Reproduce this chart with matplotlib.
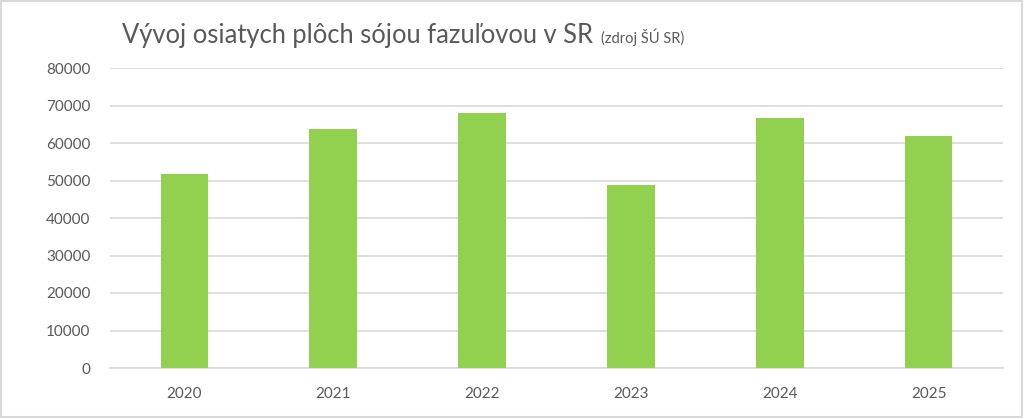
import matplotlib.pyplot as plt
from matplotlib.patches import Rectangle

years = ['2020', '2021', '2022', '2023', '2024', '2025']
area = [51700, 63800, 67900, 48900, 66700, 61900]
yticks = [0, 10000, 20000, 30000, 40000, 50000, 60000, 70000, 80000]

plt.rcParams['font.family'] = ['Lato', 'DejaVu Sans']

fig = plt.figure(figsize=(10.24, 4.18), dpi=100)
ax = fig.add_axes([110/1024, 1 - 368/418, 893/1024, 300/418])

x = range(len(years))
ax.bar(x, area, width=0.32, color='#92d050', zorder=3)

ax.set_xlim(-0.5, len(years) - 0.5)
ax.set_ylim(0, 80000)
ax.set_yticks(yticks)
ax.set_yticklabels([str(v) for v in yticks])
ax.set_xticks(list(x))
ax.set_xticklabels(years)
ax.grid(axis='y', color='#d9d9d9', linewidth=1.2, zorder=0)
for s in ['top', 'right', 'left']:
    ax.spines[s].set_visible(False)
ax.spines['bottom'].set_color('#d9d9d9')
ax.spines['bottom'].set_linewidth(1.2)
ax.tick_params(axis='both', length=0, colors='#595959', labelsize=11)
ax.tick_params(axis='x', pad=14)
ax.tick_params(axis='y', pad=14)

title = fig.text(122/1024, 1 - 35/418, 'Vývoj osiatych plôch sójou fazuľovou v SR', fontsize=18.4,
                 color='#595959', va='center')
# put the source note right after the title
fig.canvas.draw()
bb = title.get_window_extent(fig.canvas.get_renderer())
fig.text((bb.x1 + 8) / 1024, 1 - 37/418, '(zdroj ŠÚ SR)', fontsize=10.5, color='#595959', va='center')

# outer frame
fig.patches.append(Rectangle((0.001, 0.002), 0.997, 0.995, transform=fig.transFigure,
                             fill=False, edgecolor='#d9d9d9', linewidth=1.5))

fig.savefig('out.png', dpi=100)
